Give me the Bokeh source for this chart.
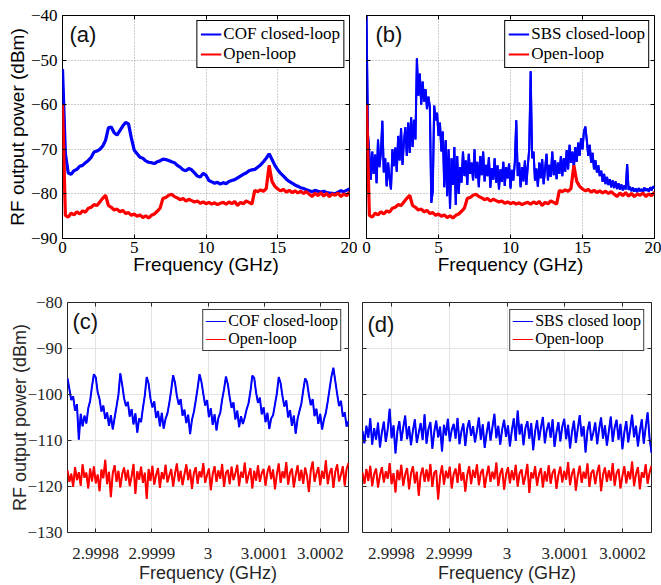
import numpy as np
from bokeh.plotting import figure
from bokeh.layouts import row, column
from bokeh.models import (Range1d, FixedTicker, LinearAxis, CustomJSTickFormatter, Label,
                          Legend, LegendItem)
from bokeh.embed import file_html
from bokeh.resources import INLINE

SERIF = "Liberation Serif"
SANS = "Liberation Sans"

# ---------------- data ----------------
top_x_ticks = [0, 5, 10, 15, 20]
top_y_ticks = [-90, -80, -70, -60, -50, -40]

# open-loop spectrum (0..20 GHz, 0.2 GHz step)
open_loop_wide = [
    -60.0, -84.8, -85.2, -84.3, -84.7, -84.0, -84.5, -83.8, -84.1, -83.2,
    -83.0, -82.4, -82.6, -81.8, -81.0, -80.3, -82.6, -83.0, -83.6, -83.4,
    -84.0, -83.7, -84.4, -84.2, -84.8, -84.5, -85.0, -84.7, -85.3, -84.9,
    -85.4, -84.8, -84.5, -83.9, -83.2, -81.0, -80.8, -80.3, -80.1, -80.6,
    -80.9, -81.3, -81.0, -81.6, -81.2, -81.5, -81.8, -81.6, -82.1, -81.8,
    -82.2, -81.9, -82.3, -82.0, -82.4, -82.1, -81.9, -82.3, -81.8, -82.2,
    -81.7, -82.6, -81.9, -82.2, -81.6, -81.9, -82.3, -79.2, -79.5, -79.1,
    -79.4, -78.8, -73.6, -77.2, -78.3, -78.9, -79.3, -79.0, -79.6, -79.2,
    -79.7, -79.3, -79.8, -79.4, -79.9, -79.5, -80.1, -80.6, -79.8, -80.4,
    -79.7, -80.5, -79.9, -80.6, -80.0, -80.3, -79.8, -80.6, -80.0, -80.4,
    -79.6,
]

# COF closed-loop (0..20 GHz, 0.2 GHz step)
cof_wide = [
    -52.0, -71.0, -75.3, -75.6, -74.8, -74.5, -73.8, -73.6, -73.0, -72.5,
    -71.8, -70.6, -70.4, -70.0, -69.3, -68.0, -65.2, -65.0, -66.3, -66.8,
    -65.8, -64.8, -64.0, -64.3, -67.5, -70.2, -71.0, -71.8, -72.0, -72.6,
    -72.9, -73.0, -73.2, -72.8, -72.6, -72.2, -72.3, -72.5, -72.8, -73.0,
    -73.6, -74.0, -74.6, -74.8, -74.3, -74.6, -75.3, -76.0, -76.2, -75.4,
    -75.8, -77.0, -77.3, -77.6, -77.4, -77.8, -77.5, -77.7, -77.2, -77.0,
    -76.8, -76.4, -76.0, -75.6, -75.3, -74.8, -74.6, -74.5, -74.0, -73.5,
    -72.8, -72.0, -71.0, -72.3, -73.6, -74.6, -75.4, -76.0, -76.7, -77.2,
    -77.6, -78.0, -78.3, -78.6, -78.8, -79.1, -79.3, -79.5, -79.2, -79.4,
    -79.6, -79.4, -79.7, -79.8, -79.9, -80.0, -79.6, -79.3, -79.5, -79.2,
    -78.9,
]

# SBS closed-loop (0..20 GHz, 0.1 GHz step)
sbs_wide = [
    -40.0, -66.5, -71.0, -76.8, -70.5, -75.5, -71.2, -77.6, -67.8, -74.0,
    -70.8, -63.6, -75.2, -72.0, -78.3, -73.0, -76.5, -79.0, -70.0, -73.8,
    -69.6, -75.0, -67.0, -72.5, -65.3, -73.5, -68.2, -65.0, -71.5, -64.0,
    -70.8, -62.8, -69.5, -63.4, -67.8, -49.6, -58.0, -53.0, -60.0, -54.8,
    -59.3, -56.5, -61.0, -58.2, -60.5, -82.0, -79.5, -60.2, -63.5, -61.8,
    -67.0, -64.0, -70.5, -66.0, -78.5, -68.0, -80.5, -70.0, -83.3, -72.0,
    -78.0, -69.5, -82.5, -71.5, -80.0, -74.0, -77.5, -70.5, -76.0, -72.5,
    -78.0, -71.0, -75.5, -73.0, -77.0, -70.0, -76.5, -72.8, -78.5, -71.5,
    -75.8, -70.5, -77.2, -73.5, -76.0, -71.8, -78.6, -74.2, -76.8, -72.0,
    -77.5, -73.6, -79.0, -74.5, -77.3, -72.8, -78.2, -74.0, -76.5, -73.2,
    -78.8, -74.6, -77.0, -72.9, -63.5, -76.0, -73.0, -78.5, -74.0, -77.2,
    -72.5, -78.0, -73.8, -70.0, -52.5, -72.0, -70.5, -77.0, -74.3, -78.4,
    -73.0, -76.5, -72.2, -77.8, -74.5, -71.0, -77.0, -73.5, -76.2, -70.5,
    -75.8, -72.5, -76.7, -73.0, -75.5, -71.5, -76.0, -72.0, -75.0, -70.2,
    -74.5, -69.0, -73.0, -70.5, -74.2, -69.5, -72.8, -68.5, -71.5, -67.5,
    -70.0, -66.0, -64.9, -68.0, -71.5, -69.0, -73.0, -70.8, -74.5, -72.5,
    -75.2, -73.6, -76.0, -74.8, -77.3, -75.5, -77.8, -76.2, -78.0, -76.7,
    -78.5, -77.0, -78.7, -77.2, -78.9, -77.6, -79.0, -77.9, -79.2, -78.1,
    -79.0, -73.3, -79.1, -78.4, -79.4, -78.6, -79.5, -78.8, -79.6, -78.7,
    -79.4, -78.9, -79.6, -78.6, -79.3, -78.8, -79.5, -78.5, -79.2, -78.3,
    -78.8,
]

# Bottom panels: zoom around 3 GHz
zoom_x_ticks = [2.9998, 2.9999, 3.0, 3.0001, 3.0002]
zoom_x_labels = ["2.9998", "2.9999", "3", "3.0001", "3.0002"]
zoom_y_ticks = [-130, -120, -110, -100, -90, -80]

cof_zoom = [
    -96.5, -98.8, -101.2, -100.4, -103.5, -102.1, -109.8, -104.2, -106.9, -104.6,
    -106.3, -103.0, -101.4, -98.2, -95.6, -96.3, -99.5, -101.0, -103.7, -102.4,
    -105.3, -103.9, -106.8, -104.5, -107.6, -105.0, -102.6, -100.1, -95.4, -97.9,
    -100.8, -102.5, -101.6, -104.8, -103.2, -106.5, -104.1, -108.3, -105.2, -106.0,
    -102.9, -100.2, -96.2, -97.6, -100.9, -102.8, -101.5, -105.1, -103.6, -106.9,
    -104.0, -107.4, -105.3, -104.1, -101.8, -99.0, -95.8, -97.4, -100.3, -102.2,
    -101.0, -104.6, -103.3, -106.2, -104.4, -108.6, -105.5, -103.8, -101.3, -98.6,
    -95.6, -97.2, -99.8, -102.4, -101.2, -104.9, -103.0, -106.6, -104.3, -107.8,
    -105.1, -104.0, -101.1, -98.9, -96.1, -97.7, -100.6, -102.9, -101.7, -105.4,
    -103.5, -107.1, -104.7, -106.4, -105.0, -103.2, -101.9, -99.3, -95.9, -96.4,
    -99.6, -101.8, -100.7, -104.3, -102.8, -106.0, -104.0, -107.5, -105.2, -104.5,
    -102.2, -99.8, -96.2, -97.5, -100.4, -102.6, -101.3, -105.0, -103.4, -106.8,
    -104.6, -108.5, -105.3, -103.6, -102.0, -99.1, -96.5, -97.3, -100.1, -102.3,
    -101.0, -104.7, -103.1, -106.4, -104.2, -107.6, -105.4, -104.0, -101.5, -98.7,
    -96.0, -94.2, -97.1, -99.9, -102.5, -101.4, -104.8, -103.9, -107.0, -105.8,
]

open_zoom_c = [
    -116.5, -119.0, -117.2, -120.1, -115.8, -118.6, -116.9, -119.8, -115.2, -118.1,
    -117.0, -120.4, -116.1, -118.9, -115.6, -119.3, -117.4, -121.0, -116.3, -118.2,
    -114.2, -119.5, -116.8, -122.3, -117.1, -115.4, -119.0, -116.6, -120.2, -117.3,
    -115.9, -118.7, -116.4, -119.9, -117.8, -115.1, -121.6, -116.7, -118.5, -115.7,
    -119.2, -117.0, -122.7, -116.2, -118.8, -115.5, -119.6, -117.5, -116.0, -120.3,
    -116.9, -118.4, -115.3, -119.1, -117.6, -116.2, -120.0, -117.2, -115.0, -118.9,
    -116.6, -119.7, -117.4, -115.2, -118.6, -116.3, -120.5, -117.1, -115.8, -119.4,
    -116.7, -118.0, -114.9, -119.2, -117.5, -116.1, -120.8, -117.3, -115.6, -119.0,
    -116.5, -118.3, -115.1, -120.1, -117.0, -116.4, -119.5, -115.7, -118.6, -117.2,
    -115.3, -119.9, -116.8, -118.1, -114.8, -119.3, -117.5, -116.0, -120.4, -116.6,
    -118.7, -115.4, -119.0, -117.1, -116.2, -119.8, -116.9, -115.5, -118.4, -116.3,
    -120.6, -117.4, -115.0, -119.2, -116.7, -118.2, -114.7, -119.6, -117.0, -116.1,
    -120.2, -117.5, -115.4, -118.8, -116.4, -119.4, -115.9, -117.7, -121.2, -116.5,
    -114.6, -119.0, -117.2, -115.8, -119.7, -116.6, -118.3, -114.3, -119.5, -117.1,
    -116.0, -120.3, -116.8, -115.2, -118.9, -117.4, -115.6, -119.8, -116.2, -114.9,
]

sbs_zoom = [
    -107.9, -110.6, -106.8, -109.4, -105.2, -110.9, -107.3, -109.8, -106.1, -111.5,
    -108.2, -105.9, -110.3, -107.6, -103.1, -109.5, -106.7, -112.8, -108.0, -105.8,
    -110.1, -107.2, -104.6, -109.7, -106.9, -111.0, -107.8, -105.4, -110.5, -108.3,
    -106.2, -109.9, -104.3, -110.7, -107.5, -106.0, -111.8, -108.1, -105.7, -109.3,
    -107.0, -112.4, -106.6, -108.9, -105.3, -110.2, -107.7, -106.4, -109.6, -105.1,
    -110.8, -108.0, -106.3, -111.2, -107.4, -105.6, -109.0, -106.9, -110.4, -107.9,
    -105.0, -109.8, -106.5, -111.6, -108.4, -105.9, -110.0, -107.1, -104.2, -109.5,
    -106.8, -110.9, -107.6, -105.5, -109.2, -106.7, -111.3, -107.8, -105.2, -110.1,
    -103.5, -108.7, -106.4, -111.0, -107.3, -105.8, -109.6, -106.2, -112.1, -108.0,
    -105.6, -109.9, -107.2, -104.9, -110.6, -107.7, -106.1, -109.4, -105.4, -111.4,
    -108.2, -106.0, -110.2, -107.0, -105.3, -109.7, -106.6, -111.7, -108.1, -105.7,
    -110.5, -107.4, -104.5, -109.1, -106.9, -112.6, -107.8, -105.9, -110.0, -108.3,
    -106.1, -110.8, -107.5, -105.0, -109.6, -106.7, -111.1, -108.0, -104.8, -110.3,
    -107.2, -105.5, -109.8, -106.4, -111.9, -108.2, -105.8, -110.4, -107.6, -104.4,
    -109.3, -106.8, -111.3, -107.9, -105.4, -110.7, -107.1, -103.9, -109.5, -112.7,
]

open_zoom_d = [
    -117.0, -119.4, -116.2, -118.8, -115.5, -119.9, -117.3, -116.1, -120.2, -117.6,
    -115.8, -119.1, -116.7, -118.3, -114.9, -119.5, -117.1, -121.3, -116.4, -118.6,
    -115.3, -119.8, -117.4, -116.0, -120.6, -117.2, -115.6, -119.3, -116.8, -122.0,
    -117.5, -115.9, -119.0, -116.3, -118.9, -115.1, -120.1, -117.0, -116.5, -122.8,
    -117.8, -115.4, -119.6, -116.6, -118.2, -115.7, -120.4, -117.3, -116.1, -119.2,
    -115.0, -118.7, -116.9, -121.1, -117.5, -115.6, -119.5, -116.4, -118.1, -115.2,
    -119.7, -117.0, -116.2, -120.3, -117.6, -115.5, -119.0, -116.8, -118.4, -114.8,
    -119.9, -117.2, -116.0, -120.7, -117.4, -115.8, -119.3, -116.5, -118.6, -115.3,
    -120.0, -117.1, -116.3, -119.6, -117.7, -115.1, -121.4, -116.9, -118.2, -115.6,
    -119.8, -117.3, -116.0, -120.2, -116.7, -118.9, -115.4, -119.4, -117.0, -116.2,
    -120.5, -117.5, -115.7, -119.1, -116.6, -118.5, -114.7, -119.7, -117.2, -116.1,
    -120.9, -117.6, -115.5, -119.2, -116.8, -118.3, -115.0, -120.1, -117.0, -116.4,
    -119.5, -116.9, -115.3, -121.0, -117.4, -115.9, -119.0, -116.5, -118.7, -114.9,
    -119.8, -117.1, -116.2, -120.4, -117.7, -115.6, -119.3, -116.7, -118.4, -114.6,
    -119.9, -117.3, -115.8, -120.6, -116.9, -118.1, -115.2, -119.4, -117.0, -115.5,
]

wide_range = (0, 20)
zoom_range = (2.99975, 3.00025)

x_open = np.linspace(wide_range[0], wide_range[1], len(open_loop_wide))
x_cof = np.linspace(wide_range[0], wide_range[1], len(cof_wide))
x_sbs = np.linspace(wide_range[0], wide_range[1], len(sbs_wide))
x_zoom = np.linspace(zoom_range[0], zoom_range[1], len(cof_zoom))

BLUE = "#0000ff"
RED = "#ff0000"


def make_fig(fw, fh, bl, br, bt, bb, xr, yr, xt, yt, ink, grid_dash, grid_color,
             ylabel=None, show_ylabels=True, xlabel_size="19px", tick_size="17px",
             x_formatter=None, x_standoff=3, xlabel_standoff=-2, ylabel_standoff=0):
    p = figure(frame_width=fw, frame_height=fh, x_range=Range1d(*xr), y_range=Range1d(*yr),
               output_backend="svg", toolbar_location=None, title=None,
               min_border_left=bl, min_border_right=br, min_border_top=bt,
               min_border_bottom=bb)
    p.background_fill_color = "white"
    p.border_fill_color = "white"
    p.outline_line_color = ink
    p.outline_line_width = 1
    p.outline_line_alpha = 1

    xticker = FixedTicker(ticks=xt)
    yticker = FixedTicker(ticks=yt)
    xa = p.below[0]
    ya = p.left[0]
    xa.ticker = xticker
    ya.ticker = yticker
    if x_formatter is not None:
        xa.formatter = x_formatter
    for ax in (xa, ya):
        ax.axis_line_color = None
        ax.major_tick_in = 4
        ax.major_tick_out = 0
        ax.major_tick_line_color = ink
        ax.minor_tick_line_color = None
        ax.major_label_text_font = SERIF
        ax.major_label_text_font_size = tick_size
        ax.major_label_text_color = ink
        ax.axis_label_text_font = SANS
        ax.axis_label_text_font_style = "normal"
        ax.axis_label_text_font_size = xlabel_size
        ax.axis_label_text_color = ink
    xa.major_label_standoff = x_standoff
    xa.axis_label = "Frequency (GHz)"
    xa.axis_label_standoff = xlabel_standoff
    ya.major_label_standoff = 5
    if show_ylabels:
        ya.axis_label = ylabel
        ya.axis_label_standoff = ylabel_standoff
    else:
        ya.formatter = CustomJSTickFormatter(code="return ''")
        ya.major_label_text_font_size = "1px"
        ya.major_label_standoff = 0

    for g in (p.xgrid[0], p.ygrid[0]):
        g.grid_line_color = grid_color
        g.grid_line_width = 1
        g.grid_line_dash = grid_dash
        g.grid_line_alpha = 1
    p.xgrid[0].ticker = xticker
    p.ygrid[0].ticker = yticker

    top = LinearAxis(ticker=xticker, formatter=CustomJSTickFormatter(code="return ''"))
    right = LinearAxis(ticker=yticker, formatter=CustomJSTickFormatter(code="return ''"))
    for ax in (top, right):
        ax.axis_line_color = None
        ax.major_tick_in = 4
        ax.major_tick_out = 0
        ax.major_tick_line_color = ink
        ax.minor_tick_line_color = None
        ax.major_label_text_font_size = "1px"
        ax.major_label_standoff = 0
    p.add_layout(top, "above")
    p.add_layout(right, "right")
    return p


def add_series(p, xs, ys, labels, colors, widths, legend_lw):
    """Draw each series; a thinner copy of the same data (hidden under the
    main stroke) serves as the legend glyph so the key line is thin."""
    items = []
    for x, y, lab, col, w in zip(xs, ys, labels, colors, widths):
        key = p.line(x, y, line_color=col, line_width=legend_lw)
        p.line(x, y, line_color=col, line_width=w)
        items.append(LegendItem(label=lab, renderers=[key]))
    return items


def add_legend(p, items, font_size, ink, margin, padding, item_h):
    lg = Legend(items=items, location="top_right", margin=margin, padding=padding,
                spacing=0, glyph_width=21, glyph_height=item_h, label_height=item_h,
                label_standoff=2, label_text_font=SERIF, label_text_font_size=font_size,
                label_text_color="black", border_line_color=ink, border_line_width=1,
                border_line_alpha=1, background_fill_color="white",
                background_fill_alpha=1)
    p.add_layout(lg)


def panel_label(p, text, x, y_from_top, frame_h, size="22px", color="#111111"):
    p.add_layout(Label(x=x, y=frame_h - y_from_top, x_units="screen", y_units="screen",
                       text=text, text_font=SANS, text_font_size=size,
                       text_baseline="top", text_align="left", text_color=color))


# ---------------- panel (a) ----------------
TOP_FH = 223
pa = make_fig(287, TOP_FH, 62, 8, 15, 47, wide_range, (-90, -40), top_x_ticks, top_y_ticks,
              "black", "1 2", "#9a9a9a", ylabel="RF output power (dBm)", ylabel_standoff=0)
items_a = add_series(pa, [x_cof, x_open], [cof_wide, open_loop_wide],
                     ["COF closed-loop", "Open-loop"], [BLUE, RED], [3.2, 3.2], 2)
add_legend(pa, items_a, "17px", "black", 5, 3, 18)
panel_label(pa, "(a)", 7, 6, TOP_FH)

# ---------------- panel (b) ----------------
pb = make_fig(288, TOP_FH, 9, 7, 15, 47, wide_range, (-90, -40), top_x_ticks, top_y_ticks,
              "black", "1 2", "#9a9a9a", show_ylabels=False)
items_b = add_series(pb, [x_sbs, x_open], [sbs_wide, open_loop_wide],
                     ["SBS closed-loop", "Open-loop"], [BLUE, RED], [2.1, 3.2], 1.9)
add_legend(pb, items_b, "17px", "black", 5, 3, 18)
panel_label(pb, "(b)", 9, 6, TOP_FH)

# ---------------- panel (c) ----------------
BOT_FH = 230
fmt_code = """
    for (let i = 0; i < tv.length; i++) { if (Math.abs(tv[i] - tick) < 1e-9) return tl[i]; }
    return String(tick);
"""
zoom_fmt_c = CustomJSTickFormatter(args=dict(tv=zoom_x_ticks, tl=zoom_x_labels), code=fmt_code)
zoom_fmt_d = CustomJSTickFormatter(args=dict(tv=zoom_x_ticks, tl=zoom_x_labels), code=fmt_code)
INK2 = "#262626"
pc = make_fig(281, BOT_FH, 67, 6, 17, 53, zoom_range, (-130, -80), zoom_x_ticks, zoom_y_ticks,
              INK2, "solid", "#e3e3e3", ylabel="RF output power (dBm)", xlabel_size="18px",
              x_formatter=zoom_fmt_c, x_standoff=15, xlabel_standoff=1, ylabel_standoff=-6)
items_c = add_series(pc, [x_zoom, x_zoom], [cof_zoom, open_zoom_c],
                     ["COF closed-loop", "Open-loop"], [BLUE, RED], [2.0, 2.0], 1.1)
add_legend(pc, items_c, "16px", "#3a3a3a", 7, 2, 18)
panel_label(pc, "(c)", 5, 6, BOT_FH)

# ---------------- panel (d) ----------------
pd_ = make_fig(289, BOT_FH, 8, 10, 17, 53, zoom_range, (-130, -80), zoom_x_ticks, zoom_y_ticks,
               INK2, "solid", "#e3e3e3", show_ylabels=False, xlabel_size="18px",
               x_formatter=zoom_fmt_d, x_standoff=15, xlabel_standoff=1)
items_d = add_series(pd_, [x_zoom, x_zoom], [sbs_zoom, open_zoom_d],
                     ["SBS closed loop", "Open-loop"], [BLUE, RED], [2.0, 2.0], 1.1)
add_legend(pd_, items_d, "16px", "#3a3a3a", 7, 2, 18)
panel_label(pd_, "(d)", 5, 9, BOT_FH)

layout = column(row(pa, pb), row(pc, pd_))

open("out.html", "w").write(file_html(layout, INLINE))
